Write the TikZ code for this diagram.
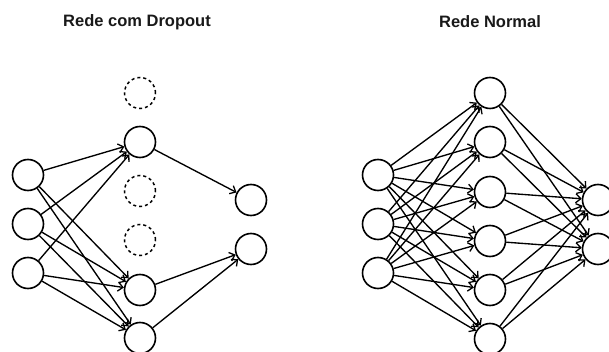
\documentclass[tikz,border=0pt]{standalone}
\usepackage{fontspec}
\setmainfont{Liberation Sans}
\usetikzlibrary{arrows.meta}
\begin{document}
\begin{tikzpicture}[x=1pt,y=-1pt,
  neuron/.style={circle,draw=black,line width=1.6pt,minimum size=31pt,inner sep=0pt,fill=white},
  dropped/.style={circle,draw=black,line width=1.5pt,minimum size=31pt,inner sep=0pt,dash pattern=on 3pt off 3pt},
  conn/.style={line width=1.35pt,-{Straight Barb[length=5pt,width=9pt,line width=1.3pt]}},
  title/.style={font=\fontsize{16.5}{19}\selectfont\bfseries,text=black!90}]
\useasboundingbox (0,0) rectangle (609,352);
\clip (0,0) rectangle (609,352);
\fill[white] (0,0) rectangle (609,352);
\node[title] (t1) at (137,22) {Rede com Dropout};
\node[title] (t2) at (490,22) {Rede Normal};
% left network
\foreach \i/\y in {1/175,2/224,3/273} \node[neuron] (a\i) at (28,\y) {};
\node[dropped] (ah1) at (140,93) {};
\node[neuron] (ah2) at (140,142) {};
\node[dropped] (ah3) at (140,191) {};
\node[dropped] (ah4) at (140,240) {};
\node[neuron] (ah5) at (140,290) {};
\node[neuron] (ah6) at (140,338) {};
\node[neuron] (ao1) at (251,200) {};
\node[neuron] (ao2) at (251,249) {};
\foreach \i in {1,2,3} \foreach \j in {2,5,6} \draw[conn] (a\i) -- (ah\j);
\draw[conn] (ah2) -- (ao1);
\draw[conn] (ah5) -- (ao2);
\draw[conn] (ah6) -- (ao2);
% right network
\foreach \i/\y in {1/175,2/224,3/273} \node[neuron] (b\i) at (378,\y) {};
\foreach \j/\y in {1/93,2/142,3/192,4/241,5/290,6/339} \node[neuron] (bh\j) at (490,\y) {};
\node[neuron] (bo1) at (598,200) {};
\node[neuron] (bo2) at (598,249) {};
\foreach \i in {1,2,3} \foreach \j in {1,...,6} \draw[conn] (b\i) -- (bh\j);
\foreach \j in {1,...,6} \foreach \k in {1,2} \draw[conn] (bh\j) -- (bo\k);
\end{tikzpicture}
\end{document}
